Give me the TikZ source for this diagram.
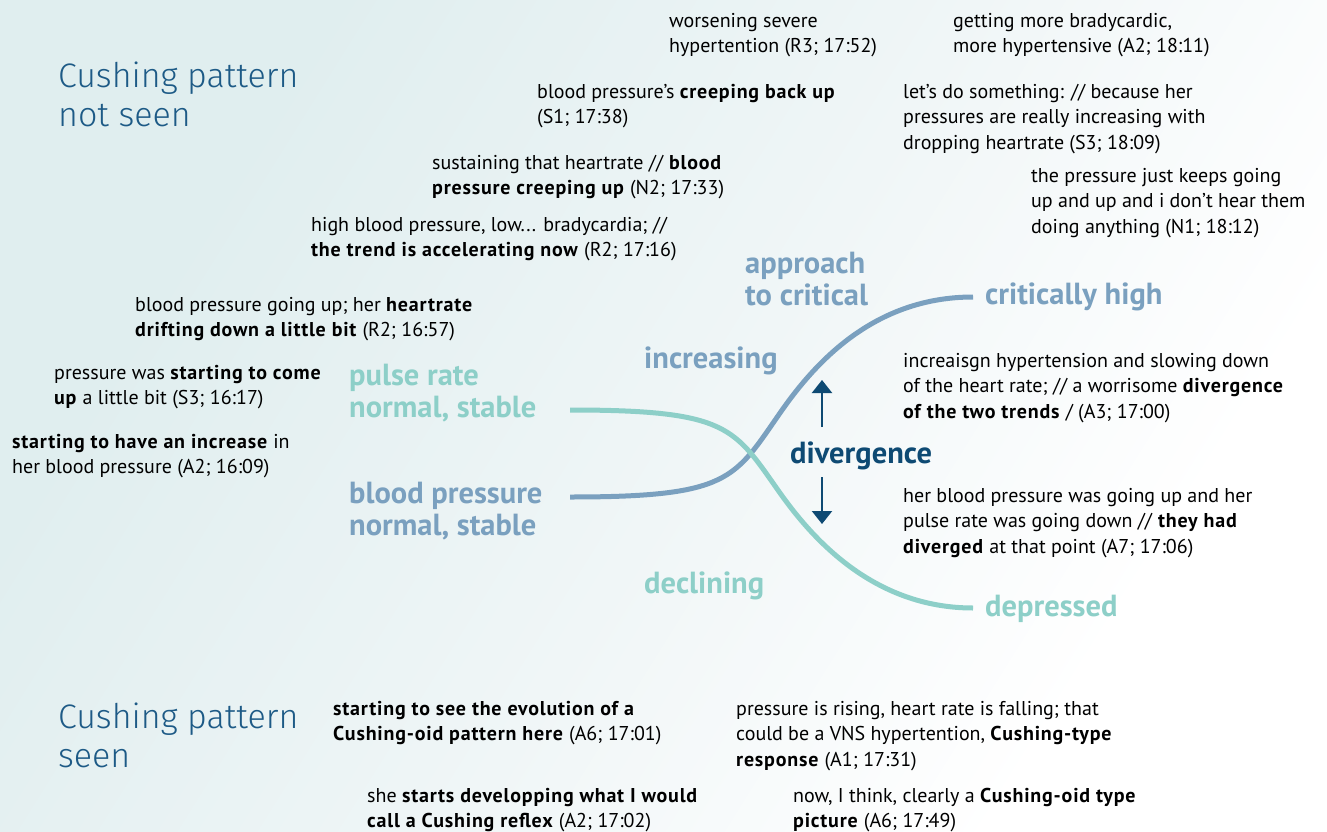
\documentclass[tikz,border=0pt]{standalone}
\usepackage{fontspec}
\setmainfont{PT Sans}[BoldFeatures={LetterSpace=4}]
\newfontfamily\labelfont{PT Sans}
\newfontfamily\lightfont{Fira Sans Light}
\usetikzlibrary{arrows.meta}
\definecolor{bpblue}{HTML}{7AA0BF}
\definecolor{pulseteal}{HTML}{8DCFC8}
\definecolor{divblue}{HTML}{0E4A73}
\definecolor{titleblue}{HTML}{1D5A86}
\definecolor{bgA}{HTML}{E0EEEF}
\definecolor{bgM}{HTML}{F0F6F7}
\pgfdeclarehorizontalshading{bgshade}{100bp}{color(0bp)=(bgA); color(28bp)=(bgA); color(52bp)=(bgM); color(72bp)=(white); color(100bp)=(white)}
\begin{document}
\begin{tikzpicture}[x=1pt,y=-1pt,
  quote/.style={anchor=north west, inner sep=0pt, align=left,
    font=\fontsize{20}{25.5}\selectfont, execute at begin node=\strut},
  biglabel/.style={anchor=north west, inner sep=0pt, align=left,
    font=\labelfont\bfseries\fontsize{30.5}{31.5}\selectfont, execute at begin node=\strut},
  titletext/.style={anchor=north west, inner sep=0pt, align=left, text=titleblue,
    font=\lightfont\fontsize{34}{38.5}\selectfont, execute at begin node=\strut},
  trend/.style={line width=5pt},
  divarrow/.style={draw=divblue, line width=2.2pt, -{Triangle[width=20pt,length=13pt]}}
]
\useasboundingbox (0,0) rectangle (1327,832);
\shade[shading=bgshade, shading angle=-32] (0,0) rectangle (1327,832);

% titles
\node[titletext] (t1) at (58,62) {Cushing pattern\\not seen};
\node[titletext] (t2) at (58,703) {Cushing pattern\\seen};

% quotes
\node[quote] (q1) at (669,13) {worsening severe\\hypertention (R3; 17:52)};
\node[quote] (q2) at (953,13) {getting more bradycardic,\\more hypertensive (A2; 18:11)};
\node[quote] (q3) at (537,84) {blood pressure’s \textbf{creeping back up}\\(S1; 17:38)};
\node[quote] (q4) at (903,84) {let’s do something: // because her\\pressures are really increasing with\\dropping heartrate (S3; 18:09)};
\node[quote] (q5) at (1031,168) {the pressure just keeps going\\up and up and i don’t hear them\\doing anything (N1; 18:12)};
\node[quote] (q6) at (432,155) {sustaining that heartrate // \textbf{blood}\\\textbf{pressure creeping up} (N2; 17:33)};
\node[quote] (q7) at (311,217) {high blood pressure, low... bradycardia; //\\\textbf{the trend is accelerating now} (R2; 17:16)};
\node[quote] (q8) at (135,297) {blood pressure going up; her \textbf{heartrate}\\\textbf{drifting down a little bit} (R2; 16:57)};
\node[quote] (q9) at (54,365) {pressure was \textbf{starting to come}\\\textbf{up} a little bit (S3; 16:17)};
\node[quote] (q10) at (12,434) {\textbf{starting to have an increase} in\\her blood pressure (A2; 16:09)};
\node[quote] (q11) at (903,353) {increaisgn hypertension and slowing down\\of the heart rate; // a worrisome \textbf{divergence}\\\textbf{of the two trends} / (A3; 17:00)};
\node[quote] (q12) at (903,488) {her blood pressure was going up and her\\pulse rate was going down // \textbf{they had}\\\textbf{diverged} at that point (A7; 17:06)};
\node[quote] (q13) at (333,701) {\textbf{starting to see the evolution of a}\\\textbf{Cushing-oid pattern here} (A6; 17:01)};
\node[quote] (q14) at (367,788) {she \textbf{starts developping what I would}\\\textbf{call a Cushing reflex} (A2; 17:02)};
\node[quote] (q15) at (736,701) {pressure is rising, heart rate is falling; that\\could be a VNS hypertention, \textbf{Cushing-type}\\\textbf{response} (A1; 17:31)};
\node[quote] (q16) at (793,788) {now, I think, clearly a \textbf{Cushing-oid type}\\\textbf{picture} (A6; 17:49)};

% big labels
\node[biglabel, text=bpblue] (appr) at (745,252) {approach\\to critical};
\node[biglabel, text=bpblue] (crit) at (985,282) {critically high};
\node[biglabel, text=bpblue] (incr) at (644,346) {increasing};
\node[biglabel, text=pulseteal] (pulse) at (349,364) {pulse rate\\normal, stable};
\node[biglabel, text=bpblue] (bp) at (349,482) {blood pressure\\normal, stable};
\node[biglabel, text=divblue] (div) at (790,441) {divergence};
\node[biglabel, text=pulseteal] (decl) at (644,571) {declining};
\node[biglabel, text=pulseteal] (depr) at (985,594) {depressed};

% curve ends
\coordinate (bpS) at (570,497);
\coordinate (bpM) at (780,413);
\coordinate (bpE) at (973,297);
\coordinate (prS) at (570,410);
\coordinate (prM) at (780,493);
\coordinate (prE) at (973,608);

\draw[trend, bpblue] (bpS) .. controls (730,497) and (734,479) .. (bpM)
  .. controls (814,364) and (873,297) .. (bpE);
\draw[trend, pulseteal] (prS) .. controls (730,410) and (734,428) .. (prM)
  .. controls (812,538) and (873,608) .. (prE);

% divergence arrows
\coordinate (upS) at (822,427);
\coordinate (upE) at (822,380);
\coordinate (dnS) at (822,477);
\coordinate (dnE) at (822,524);
\draw[divarrow] (upS) -- (upE);
\draw[divarrow] (dnS) -- (dnE);
\end{tikzpicture}
\end{document}
